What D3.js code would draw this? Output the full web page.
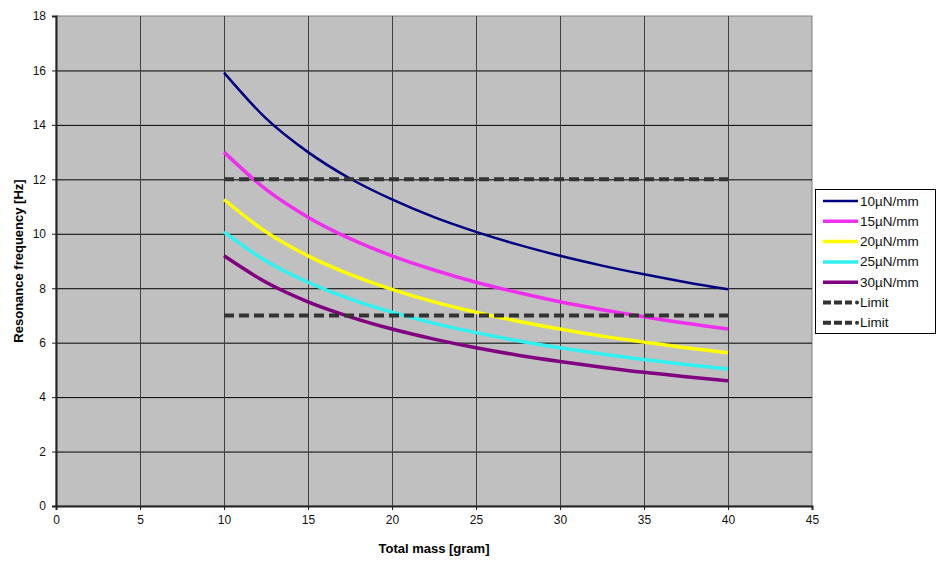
<!DOCTYPE html>
<html><head><meta charset="utf-8">
<script src="https://cdn.jsdelivr.net/npm/d3@7"></script>
<style>body{margin:0;background:#fff;} svg{display:block;font-family:"Liberation Sans",Arial,sans-serif;}</style>
</head><body>
<svg id="c" width="950" height="575"></svg>
<script>
const masses = [10, 12.5, 15, 17.5, 20, 22.5, 25, 27.5, 30, 32.5, 35, 37.5, 40];
const f10 = [15.92, 14.24, 13.00, 12.03, 11.26, 10.61, 10.07, 9.60, 9.19, 8.83, 8.51, 8.22, 7.96];
const f15 = [13.00, 11.63, 10.61, 9.82, 9.19, 8.67, 8.22, 7.84, 7.50, 7.21, 6.95, 6.71, 6.50];
const f20 = [11.26, 10.07, 9.19, 8.51, 7.96, 7.50, 7.12, 6.79, 6.50, 6.24, 6.02, 5.81, 5.63];
const f25 = [10.07, 9.00, 8.22, 7.61, 7.12, 6.71, 6.37, 6.07, 5.81, 5.58, 5.38, 5.20, 5.03];
const f30 = [9.19, 8.22, 7.50, 6.95, 6.50, 6.13, 5.81, 5.54, 5.31, 5.10, 4.91, 4.75, 4.60];
const limitX = [10, 40];
const limitHigh = [12, 12];
const limitLow = [7, 7];
const seriesNames = ["10µN/mm", "15µN/mm", "20µN/mm", "25µN/mm", "30µN/mm", "Limit", "Limit"];
const xTicks = [0, 5, 10, 15, 20, 25, 30, 35, 40, 45];
const yTicks = [0, 2, 4, 6, 8, 10, 12, 14, 16, 18];

const series = [
  {name: seriesNames[0], x: masses, y: f10, color: "#000080", w: 2.5},
  {name: seriesNames[1], x: masses, y: f15, color: "#ee30ee", w: 3.5},
  {name: seriesNames[2], x: masses, y: f20, color: "#ffff00", w: 3.5},
  {name: seriesNames[3], x: masses, y: f25, color: "#30f0f0", w: 3.5},
  {name: seriesNames[4], x: masses, y: f30, color: "#800080", w: 3.5},
  {name: seriesNames[5], x: limitX, y: limitHigh, color: "#333333", w: 4, dash: "10,5"},
  {name: seriesNames[6], x: limitX, y: limitLow, color: "#333333", w: 4, dash: "10,5"}
];

const svg = d3.select("#c");
const L = 56, R = 812, T = 16, B = 506;
const x = d3.scaleLinear().domain([0, 45]).range([L, R]);
const y = d3.scaleLinear().domain([0, 18]).range([B, T]);

svg.append("rect").attr("x", L).attr("y", T).attr("width", R - L).attr("height", B - T)
  .attr("fill", "#c0c0c0").attr("stroke", "#808080").attr("stroke-width", 1);

// gridlines
svg.append("g").selectAll("line").data(yTicks.filter(d => d > 0 && d < 18)).join("line")
  .attr("x1", L).attr("x2", R).attr("y1", d => y(d) + 0.5).attr("y2", d => y(d) + 0.5)
  .attr("stroke", "#000").attr("stroke-width", 1);
svg.append("g").selectAll("line").data(xTicks.filter(d => d > 0 && d < 45)).join("line")
  .attr("y1", T).attr("y2", B).attr("x1", d => x(d) + 0.5).attr("x2", d => x(d) + 0.5)
  .attr("stroke", "#404040").attr("stroke-width", 1);

// axes
const xAxis = svg.append("g").attr("transform", `translate(0,${B})`)
  .call(d3.axisBottom(x).tickValues(xTicks).tickSize(4).tickPadding(5));
const yAxis = svg.append("g").attr("transform", `translate(${L},0)`)
  .call(d3.axisLeft(y).tickValues(yTicks).tickSize(4).tickPadding(6));
[xAxis, yAxis].forEach(a => {
  a.select(".domain").attr("stroke", "#222").attr("stroke-width", 2);
  a.selectAll(".tick line").attr("stroke", "#222");
  a.selectAll("text").attr("font-size", 12).attr("fill", "#111")
    .attr("font-family", "'Liberation Sans',Arial,sans-serif");
});

const line = d3.line().x(d => x(d[0])).y(d => y(d[1])).curve(d3.curveMonotoneX);
svg.append("g").selectAll("path").data(series).join("path")
  .attr("d", s => line(s.x.map((v, i) => [v, s.y[i]])))
  .attr("fill", "none").attr("stroke", s => s.color).attr("stroke-width", s => s.w)
  .attr("stroke-dasharray", s => s.dash || null);

// axis titles
svg.append("text").attr("x", (L + R) / 2).attr("y", 553).attr("text-anchor", "middle")
  .attr("font-size", 13).attr("font-weight", "bold").text("Total mass [gram]");
svg.append("text").attr("transform", `translate(23,${(T + B) / 2}) rotate(-90)`)
  .attr("text-anchor", "middle").attr("font-size", 13).attr("font-weight", "bold")
  .text("Resonance frequency [Hz]");

// legend
const lg = svg.append("g");
lg.append("rect").attr("x", 815.5).attr("y", 189.5).attr("width", 120).attr("height", 144)
  .attr("fill", "#fff").attr("stroke", "#000").attr("stroke-width", 1);
series.forEach((s, i) => {
  const yy = 201 + i * 20.3;
  if (s.dash) {
    lg.append("line").attr("x1", 823).attr("x2", 852).attr("y1", yy).attr("y2", yy)
      .attr("stroke", s.color).attr("stroke-width", 4).attr("stroke-dasharray", "8,3");
    lg.append("circle").attr("cx", 857).attr("cy", yy).attr("r", 2).attr("fill", s.color);
  } else {
    lg.append("line").attr("x1", 823).attr("x2", 858).attr("y1", yy).attr("y2", yy)
      .attr("stroke", s.color).attr("stroke-width", s.w);
  }
  lg.append("text").attr("x", 860).attr("y", yy + 4.5).attr("font-size", 13.5).attr("fill", "#111").text(s.name);
});
</script>
</body></html>
